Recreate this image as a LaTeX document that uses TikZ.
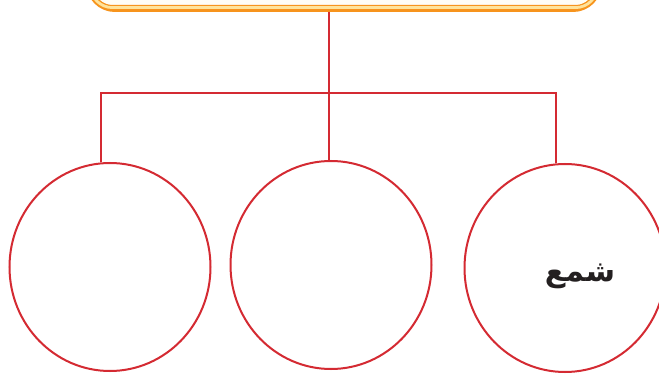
\documentclass[tikz,border=0pt]{standalone}
\usepackage{fontspec}
\usetikzlibrary{positioning,shapes.geometric,calc}
\TeXXeTstate=1
\newfontfamily\arabicfont[Script=Arabic]{DejaVu Sans}
\definecolor{linkred}{HTML}{D42A32}
\definecolor{boxorange}{HTML}{F7941D}
\definecolor{boxyellow}{HTML}{FFE39A}
\definecolor{boxfill}{HTML}{FFFDF5}
\definecolor{textblack}{HTML}{231F20}
\begin{document}
\begin{tikzpicture}[x=1pt,y=-1pt,
	link/.style={draw=linkred, line width=2pt},
	bubble/.style={ellipse, draw=linkred, line width=2pt, minimum width=201pt, minimum height=208pt, inner sep=0pt},
	titlebox/.style={draw=boxorange, fill=boxfill, line width=6pt, rounded corners=26pt, minimum width=510pt, minimum height=60pt, inner sep=0pt}]
	% Fixed white canvas with the reference margins.
	\path[use as bounding box] (0,0) rectangle (659,374);
	\fill[white] (0,0) rectangle (659,374);

	% Title box, cut off at the top edge.
	\node[titlebox] (topbox) at (344,-21) {};
	\draw[boxyellow, line width=3pt, rounded corners=22pt]
		($(topbox.south west)+(4.5,-4.5)$) rectangle ($(topbox.north east)+(-4.5,4.5)$);
	\draw[boxorange, line width=1pt, rounded corners=20pt]
		($(topbox.south west)+(6.5,-6.5)$) rectangle ($(topbox.north east)+(-6.5,6.5)$);

	% Three bubbles.
	\node[bubble] (left) at (110,267) {};
	\node[bubble] (mid) at (331,265) {};
	\node[bubble] (right) at (565,268) {};

	% Label in the right bubble.
	\node[font=\arabicfont\bfseries\fontsize{30}{36}\selectfont, text=textblack, inner sep=0pt] (word) at (580,276)
		{\beginR شمع\endR};

	% Tree connectors.
	\coordinate (hub) at (329,93);
	\draw[link] (topbox.south -| hub) -- (hub);
	\draw[link] (hub) -| (mid.91);
	\draw[link] (hub) -| (left.95);
	\draw[link] (hub) -| (right.95);
\end{tikzpicture}
\end{document}
